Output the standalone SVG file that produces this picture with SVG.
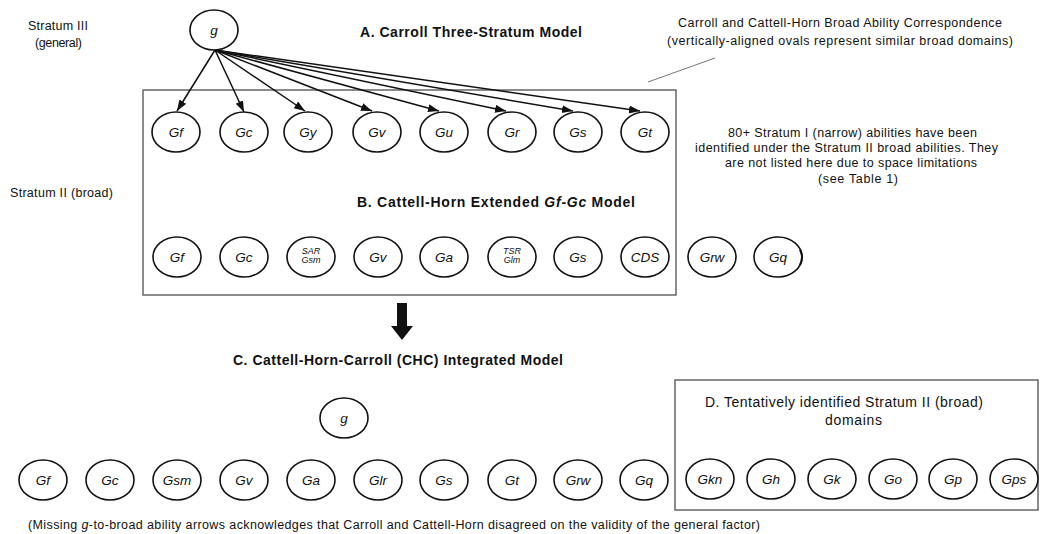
<svg xmlns="http://www.w3.org/2000/svg" width="1040" height="534" viewBox="0 0 1040 534">
<style>
text{font-family:"Liberation Sans",Arial,sans-serif;fill:#111}
.ov{fill:#fff;stroke:#111;stroke-width:1.6}
.lb{font-size:13.5px;font-style:italic;text-anchor:middle}
.sm{font-size:9px;font-style:italic;text-anchor:middle}
.ttl{font-size:14px;font-weight:bold}
.nt{font-size:12.5px}
.box{fill:none;stroke:#666;stroke-width:1.5}
.ar{stroke:#111;stroke-width:1.5;fill:none;marker-end:url(#ah)}
</style>
<defs>
<marker id="ah" markerUnits="userSpaceOnUse" markerWidth="12" markerHeight="10" refX="11" refY="4" orient="auto">
<path d="M0,0 L11,4 L0,8 Z" fill="#111"/>
</marker>
</defs>
<rect width="1040" height="534" fill="#fff"/>

<!-- labels -->
<text class="nt" x="28" y="30" textLength="60">Stratum III</text>
<text class="nt" x="35" y="47" textLength="47">(general)</text>
<text class="nt" x="10" y="197" textLength="103">Stratum II (broad)</text>
<text class="ttl" x="360" y="37" textLength="222">A.  Carroll Three-Stratum Model</text>
<text class="ttl" x="357" y="207" textLength="278">B.  Cattell-Horn Extended  <tspan font-style="italic">Gf-Gc</tspan> Model</text>
<text class="ttl" x="233" y="365" textLength="330">C.  Cattell-Horn-Carroll (CHC) Integrated Model</text>
<text class="nt" x="678" y="27" textLength="324">Carroll and Cattell-Horn Broad Ability Correspondence</text>
<text class="nt" x="667" y="45" textLength="346">(vertically-aligned ovals represent similar broad domains)</text>
<line x1="648" y1="82" x2="715" y2="58" stroke="#777" stroke-width="1"/>
<text class="nt" x="728" y="137" textLength="249">80+ Stratum I (narrow) abilities have been</text>
<text class="nt" x="695" y="152" textLength="303">identified under the Stratum II broad abilities. They</text>
<text class="nt" x="725" y="167" textLength="252">are not listed here due to space limitations</text>
<text class="nt" x="818" y="183" textLength="80">(see Table 1)</text>
<text class="nt" x="28" y="529" textLength="732">(Missing <tspan font-style="italic">g</tspan>-to-broad ability arrows acknowledges that Carroll and Cattell-Horn disagreed on the validity of the general factor)</text>

<!-- boxes -->
<rect class="box" x="143" y="90" width="533" height="205"/>
<rect class="box" x="675" y="380" width="363" height="130"/>
<text x="705" y="407" font-size="14px" textLength="278">D.  Tentatively identified Stratum II (broad)</text>
<text x="825" y="425" font-size="14px" textLength="57">domains</text>

<!-- block arrow -->
<path d="M397,303 H407 V326 H413 L402,340 L391,326 H397 Z" fill="#111"/>

<!-- connectors -->
<g id="connectors">
<line class="ar" x1="215" y1="50" x2="177" y2="111"/>
<line class="ar" x1="215" y1="50" x2="244" y2="112"/>
<line class="ar" x1="215" y1="50" x2="305" y2="111"/>
<line class="ar" x1="215" y1="50" x2="372" y2="111"/>
<line class="ar" x1="215" y1="50" x2="439" y2="111"/>
<line class="ar" x1="215" y1="50" x2="506" y2="111"/>
<line class="ar" x1="215" y1="50" x2="573" y2="111"/>
<line class="ar" x1="215" y1="50" x2="640" y2="111"/>
</g>

<!-- A row -->
<g id="gA"><ellipse class="ov" cx="214" cy="30" rx="24" ry="20"/><text class="lb" x="214" y="35">g</text></g>
<g id="A-Gf"><ellipse class="ov" cx="176" cy="132" rx="24" ry="20"/><text class="lb" x="176" y="137">Gf</text></g>
<g id="A-Gc"><ellipse class="ov" cx="244" cy="132" rx="24" ry="20"/><text class="lb" x="244" y="137">Gc</text></g>
<g id="A-Gy"><ellipse class="ov" cx="308" cy="132" rx="24" ry="20"/><text class="lb" x="308" y="137">Gy</text></g>
<g id="A-Gv"><ellipse class="ov" cx="377" cy="132" rx="24" ry="20"/><text class="lb" x="377" y="137">Gv</text></g>
<g id="A-Gu"><ellipse class="ov" cx="444" cy="132" rx="24" ry="20"/><text class="lb" x="444" y="137">Gu</text></g>
<g id="A-Gr"><ellipse class="ov" cx="512" cy="132" rx="24" ry="20"/><text class="lb" x="512" y="137">Gr</text></g>
<g id="A-Gs"><ellipse class="ov" cx="578" cy="132" rx="24" ry="20"/><text class="lb" x="578" y="137">Gs</text></g>
<g id="A-Gt"><ellipse class="ov" cx="645" cy="132" rx="24" ry="20"/><text class="lb" x="645" y="137">Gt</text></g>

<!-- B row -->
<g id="B-Gf"><ellipse class="ov" cx="177" cy="257" rx="24" ry="20"/><text class="lb" x="177" y="262">Gf</text></g>
<g id="B-Gc"><ellipse class="ov" cx="244" cy="257" rx="24" ry="20"/><text class="lb" x="244" y="262">Gc</text></g>
<g id="B-SAR"><ellipse class="ov" cx="311" cy="257" rx="24" ry="20"/><text class="sm" x="311" y="254">SAR</text><text class="sm" x="311" y="263">Gsm</text></g>
<g id="B-Gv"><ellipse class="ov" cx="378" cy="257" rx="24" ry="20"/><text class="lb" x="378" y="262">Gv</text></g>
<g id="B-Ga"><ellipse class="ov" cx="444" cy="257" rx="24" ry="20"/><text class="lb" x="444" y="262">Ga</text></g>
<g id="B-TSR"><ellipse class="ov" cx="512" cy="257" rx="24" ry="20"/><text class="sm" x="512" y="254">TSR</text><text class="sm" x="512" y="263">Glm</text></g>
<g id="B-Gs"><ellipse class="ov" cx="578" cy="257" rx="24" ry="20"/><text class="lb" x="578" y="262">Gs</text></g>
<g id="B-CDS"><ellipse class="ov" cx="645" cy="257" rx="24" ry="20"/><text class="lb" x="645" y="262">CDS</text></g>
<g id="B-Grw"><ellipse class="ov" cx="712" cy="257" rx="24" ry="20"/><text class="lb" x="712" y="262">Grw</text></g>
<g id="B-Gq"><ellipse class="ov" cx="778" cy="257" rx="24" ry="20"/><path d="M800,250 Q804,257 800,265" stroke="#111" stroke-width="2" fill="none"/><text class="lb" x="778" y="262">Gq</text></g>

<!-- C row -->
<g id="gC"><ellipse class="ov" cx="344" cy="418" rx="24" ry="20"/><text class="lb" x="344" y="423">g</text></g>
<g id="C-Gf"><ellipse class="ov" cx="43" cy="480" rx="24" ry="20"/><text class="lb" x="43" y="485">Gf</text></g>
<g id="C-Gc"><ellipse class="ov" cx="110" cy="480" rx="24" ry="20"/><text class="lb" x="110" y="485">Gc</text></g>
<g id="C-Gsm"><ellipse class="ov" cx="177" cy="480" rx="24" ry="20"/><text class="lb" x="177" y="485">Gsm</text></g>
<g id="C-Gv"><ellipse class="ov" cx="244" cy="480" rx="24" ry="20"/><text class="lb" x="244" y="485">Gv</text></g>
<g id="C-Ga"><ellipse class="ov" cx="311" cy="480" rx="24" ry="20"/><text class="lb" x="311" y="485">Ga</text></g>
<g id="C-Glr"><ellipse class="ov" cx="378" cy="480" rx="24" ry="20"/><text class="lb" x="378" y="485">Glr</text></g>
<g id="C-Gs"><ellipse class="ov" cx="444" cy="480" rx="24" ry="20"/><text class="lb" x="444" y="485">Gs</text></g>
<g id="C-Gt"><ellipse class="ov" cx="512" cy="480" rx="24" ry="20"/><text class="lb" x="512" y="485">Gt</text></g>
<g id="C-Grw"><ellipse class="ov" cx="578" cy="480" rx="24" ry="20"/><text class="lb" x="578" y="485">Grw</text></g>
<g id="C-Gq"><ellipse class="ov" cx="644" cy="480" rx="24" ry="20"/><text class="lb" x="644" y="485">Gq</text></g>

<!-- D row -->
<g id="D-Gkn"><ellipse class="ov" cx="710" cy="479" rx="24" ry="20"/><text class="lb" x="710" y="484">Gkn</text></g>
<g id="D-Gh"><ellipse class="ov" cx="771" cy="479" rx="24" ry="20"/><text class="lb" x="771" y="484">Gh</text></g>
<g id="D-Gk"><ellipse class="ov" cx="832" cy="479" rx="24" ry="20"/><text class="lb" x="832" y="484">Gk</text></g>
<g id="D-Go"><ellipse class="ov" cx="893" cy="479" rx="24" ry="20"/><text class="lb" x="893" y="484">Go</text></g>
<g id="D-Gp"><ellipse class="ov" cx="953" cy="479" rx="24" ry="20"/><text class="lb" x="953" y="484">Gp</text></g>
<g id="D-Gps"><ellipse class="ov" cx="1014" cy="479" rx="24" ry="20"/><text class="lb" x="1014" y="484">Gps</text></g>
</svg>
